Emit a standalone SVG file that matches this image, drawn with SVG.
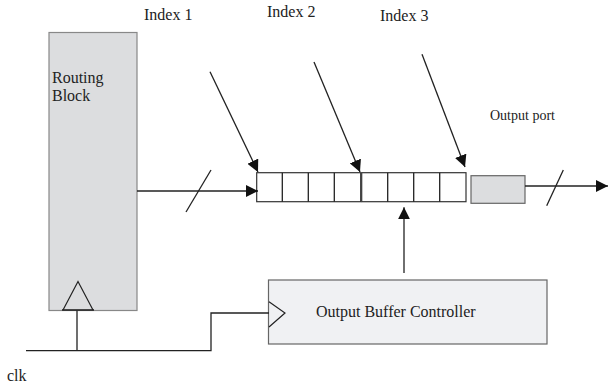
<svg xmlns="http://www.w3.org/2000/svg" width="608" height="391" viewBox="0 0 608 391">
<defs>
<style>
text{font-family:"Liberation Serif","Times New Roman",serif;fill:#222}
.ln{stroke:#222;stroke-width:1.3;fill:none}
.cell{fill:#fff;stroke:#333;stroke-width:1.2}
</style>
<marker id="ah" viewBox="0 0 12 12" refX="12" refY="6" markerWidth="12" markerHeight="12" markerUnits="userSpaceOnUse" orient="auto">
<path d="M0,0 L12,6 L0,12 Z" fill="#111"/>
</marker>
</defs>
<rect width="608" height="391" fill="#fff"/>
<g id="routing-block">
<rect x="49" y="32.5" width="88" height="278" fill="#dcdddf" stroke="#888" stroke-width="1.2"/>
<text x="52" y="83" font-size="16">Routing</text>
<text x="52" y="101" font-size="16">Block</text>
<path d="M63,310 L78,281.5 L93,310" fill="none" stroke="#222" stroke-width="1.2"/>
<line x1="62" y1="310" x2="94" y2="310" stroke="#222" stroke-width="1.6"/>
</g>
<g id="buffer">
<rect class="cell" x="256.7" y="172.7" width="104" height="29"/>
<rect class="cell" x="361.7" y="172.7" width="104.3" height="29"/>
<path class="ln" d="M282.3,172.7V201.7M308.3,172.7V201.7M334.3,172.7V201.7M387.7,172.7V201.7M413.7,172.7V201.7M439.7,172.7V201.7" stroke="#333"/>
</g>
<g id="output-port">
<rect x="471" y="175.7" width="54" height="27.6" fill="#dcdddf" stroke="#666" stroke-width="1.2"/>
<text x="490" y="120" font-size="14">Output port</text>
</g>
<g id="controller">
<rect x="268.5" y="280" width="278.5" height="64" fill="#f0f1f3" stroke="#666" stroke-width="1.2"/>
<path d="M269,301.7 L285,313 L269,327" fill="none" stroke="#222" stroke-width="1.2"/>
<text x="316" y="317" font-size="16">Output Buffer Controller</text>
</g>
<g id="labels">
<text x="144" y="20" font-size="16">Index 1</text>
<text x="267" y="17" font-size="16">Index 2</text>
<text x="380" y="21" font-size="16">Index 3</text>
<text x="7" y="381" font-size="16">clk</text>
</g>
<g id="connectors">
<line class="ln" x1="210" y1="71.7" x2="258" y2="172" marker-end="url(#ah)"/>
<line class="ln" x1="314" y1="62" x2="360" y2="172" marker-end="url(#ah)"/>
<line class="ln" x1="422" y1="54.3" x2="465" y2="167" marker-end="url(#ah)"/>
<line class="ln" x1="137" y1="191" x2="258" y2="191" marker-end="url(#ah)"/>
<line class="ln" x1="186" y1="212" x2="211" y2="170"/>
<line class="ln" x1="525" y1="186" x2="608" y2="186" marker-end="url(#ah)"/>
<line class="ln" x1="546.7" y1="205.7" x2="563.3" y2="170"/>
<line class="ln" x1="404" y1="273" x2="404" y2="207.3" marker-end="url(#ah)"/>
<path class="ln" d="M77,310.5 V350.7 M26,350.7 H211 V313 H269"/>
</g>
</svg>
